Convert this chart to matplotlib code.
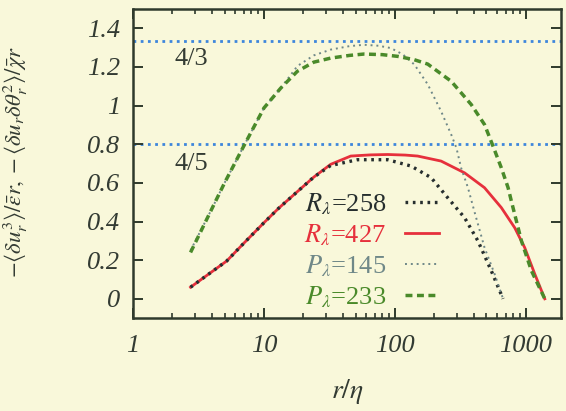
import matplotlib
matplotlib.use('Agg')
import matplotlib.pyplot as plt

plt.rcParams['font.family'] = ['Liberation Serif', 'DejaVu Serif']
plt.rcParams['mathtext.fontset'] = 'stix'

# R_lambda = 258 (black dotted)
x_r258 = [2.75, 4, 5.2, 7, 10, 13, 17, 24, 32.3, 51.8, 88, 133, 189, 253, 340, 430, 544, 669]
y_r258 = [0.06, 0.14, 0.196, 0.287, 0.394, 0.47, 0.54, 0.63, 0.69, 0.72, 0.72, 0.687, 0.627, 0.523, 0.42, 0.30, 0.145, 0.0]

# R_lambda = 427 (red solid)
x_r427 = [2.75, 4, 5.2, 7, 10, 13, 17, 24, 32.3, 46, 65, 88, 120, 149, 225, 340, 483, 649, 821, 979, 1169, 1393]
y_r427 = [0.06, 0.14, 0.196, 0.287, 0.394, 0.47, 0.54, 0.63, 0.696, 0.739, 0.745, 0.747, 0.744, 0.739, 0.713, 0.652, 0.575, 0.472, 0.368, 0.265, 0.128, 0.0]

# P_lambda = 145 (grey dotted)
x_p145 = [2.75, 4, 5, 7, 10, 13.4, 18, 24, 32.3, 45, 58, 75, 93, 115, 141, 178, 225, 269, 295, 320, 361, 405, 483, 577, 669]
y_p145 = [0.25, 0.466, 0.6, 0.79, 0.988, 1.09, 1.205, 1.26, 1.29, 1.308, 1.315, 1.31, 1.298, 1.265, 1.212, 1.11, 0.971, 0.85, 0.78, 0.678, 0.575, 0.45, 0.265, 0.128, 0.0]

# P_lambda = 233 (green dashed)
x_p233 = [2.75, 4, 5, 7, 10, 13.4, 18, 24, 32.3, 45, 58, 80, 105, 140, 178, 269, 382, 483, 561, 649, 731, 774, 924, 1102, 1393]
y_p233 = [0.24, 0.466, 0.6, 0.79, 0.988, 1.09, 1.178, 1.225, 1.246, 1.26, 1.267, 1.264, 1.255, 1.238, 1.215, 1.126, 1.006, 0.902, 0.79, 0.678, 0.575, 0.506, 0.30, 0.145, 0.0]

ref_levels = [4 / 3, 0.8]
ref_labels = ['4/3', '4/5']
ref_label_y = [1.24, 0.70]

y_ticks = [0, 0.2, 0.4, 0.6, 0.8, 1.0, 1.2, 1.4]
y_ticklabels = ['0', '0.2', '0.4', '0.6', '0.8', '1', '1.2', '1.4']
x_ticks = [1, 10, 100, 1000]
x_ticklabels = ['1', '10', '100', '1000']

bg = '#f9f8da'
frame_col = '#2f3a2c'

fig = plt.figure(figsize=(5.66, 4.11), dpi=100, facecolor=bg)
ax = fig.add_axes([0.235, 0.226, 0.756, 0.752], facecolor=bg)

for lev in ref_levels:
    ax.axhline(lev, color='#3d86dc', lw=2.0, ls=(0, (1, 1.6)), zorder=1)
for lab, ly in zip(ref_labels, ref_label_y):
    ax.text(2.8, ly, lab, fontsize=19, color='#333b33', ha='center', va='center')

l1, = ax.plot(x_r258, y_r258, color='#262e2e', lw=2.4, ls=(0, (0.8, 1.4)), label=r'$R_\lambda$=258', zorder=3)
l2, = ax.plot(x_r427, y_r427, color='#e6303c', lw=2.0, ls='-', label=r'$R_\lambda$=427', zorder=2)
l3, = ax.plot(x_p145, y_p145, color='#6f8888', lw=1.4, ls=(0, (1, 2)), label=r'$P_\lambda$=145', zorder=3)
l4, = ax.plot(x_p233, y_p233, color='#4a8a2a', lw=2.5, ls=(0, (2, 1.3)), label=r'$P_\lambda$=233', zorder=4)

ax.set_xscale('log')
ax.set_xlim(1, 1850)
ax.set_ylim(-0.1, 1.5)
ax.set_xticks(x_ticks)
ax.set_xticklabels(x_ticklabels)
ax.set_yticks(y_ticks)
ax.set_yticklabels(y_ticklabels)
for t in ax.get_xticklabels() + ax.get_yticklabels():
    t.set_fontstyle('italic')
    t.set_color('#333b33')

ax.tick_params(which='major', direction='in', length=7, width=1.4, top=True, right=True,
               labelsize=19, color=frame_col)
ax.tick_params(axis='x', which='major', pad=12)
ax.tick_params(axis='y', which='major', pad=9)
ax.tick_params(which='minor', direction='in', length=3.5, width=1.2, top=True, right=True, color=frame_col)
for s in ax.spines.values():
    s.set_color(frame_col)
    s.set_linewidth(1.8)

ax.set_xlabel(r'$r/\eta$', fontsize=20, color='#333b33')
ax.xaxis.set_label_coords(0.5, -0.19)
ax.set_ylabel(r'$-\langle\delta u_r^3\rangle/\bar{\epsilon}r, -\langle\delta u_r\delta\theta_r^2\rangle/\bar{\chi}r$',
              fontsize=16.5, color='#333b33')
ax.yaxis.set_label_coords(-0.24, 0.505)

leg = ax.legend(handles=[l1, l2, l3, l4], loc='upper right', bbox_to_anchor=(0.715, 0.41),
                frameon=False, markerfirst=False, fontsize=19, handlelength=1.3,
                handletextpad=0.7, labelspacing=0.2, borderpad=0, borderaxespad=0,
                labelcolor=['#262e2e', '#e6303c', '#6f8888', '#4a8a2a'])

fig.savefig('out.png', dpi=100, facecolor=bg)
